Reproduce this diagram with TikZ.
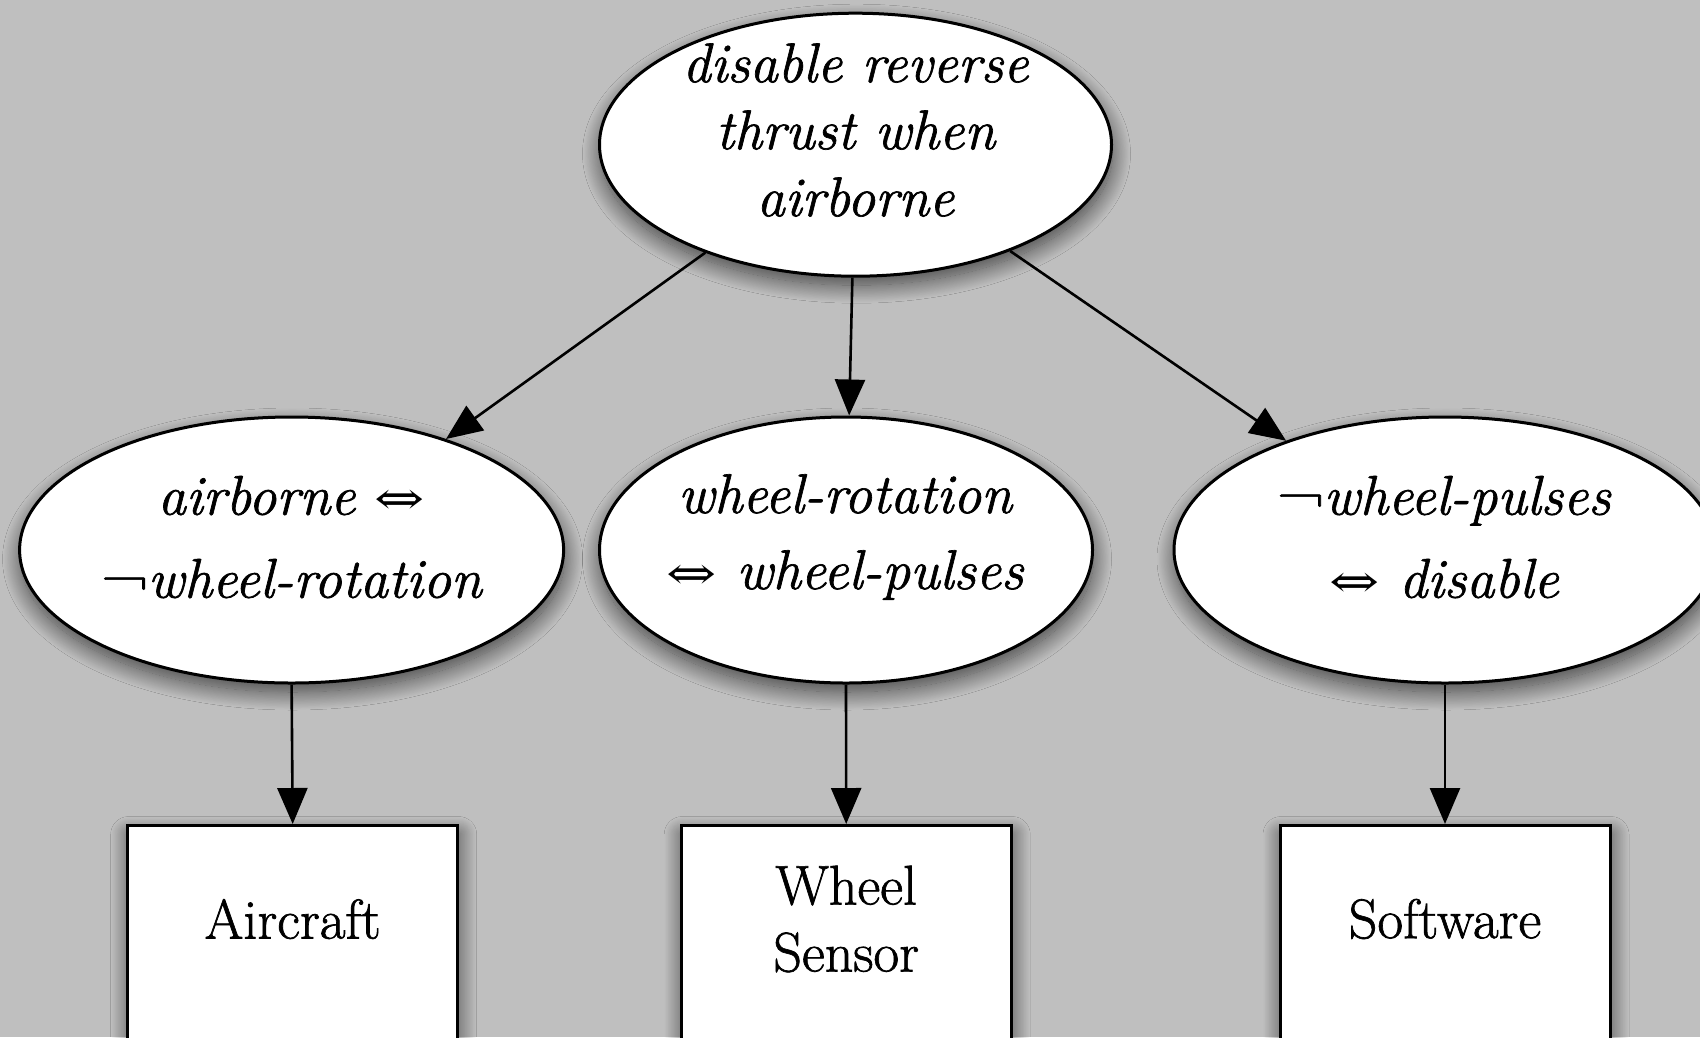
\documentclass[tikz,border=0pt]{standalone}
\usepackage{fontspec}
\usepackage{graphicx}
\setmainfont{Latin Modern Roman}[FakeBold=1.2]
\newfontfamily\symfont{DejaVu Serif}
\usetikzlibrary{shapes.geometric,arrows.meta,shadows.blur}

\definecolor{canvas}{RGB}{191,191,191}
\newcommand{\iffarrow}{{\upshape\scalebox{1.5}[1.15]{\symfont\fontsize{40}{67}\selectfont ⇔}}}
\newcommand{\notsym}{{\upshape\scalebox{1.15}[1]{¬}}}

\tikzset{
  x=1pt, y=1pt,
  softshadow/.style={blur shadow={shadow xshift=1pt, shadow yshift=-9pt,
      shadow blur radius=18pt, shadow blur steps=30, shadow opacity=65}},
  goalshape/.style={ellipse, draw=black, line width=3pt, fill=white,
      inner sep=0pt, softshadow},
  domainbox/.style={rectangle, draw=black, line width=3pt, fill=white,
      minimum width=330pt, minimum height=300pt, inner sep=0pt, softshadow},
  goaltext/.style={align=center, font=\fontsize{56}{67}\selectfont\itshape},
  boxtext/.style={align=center, font=\fontsize{56}{67}\selectfont},
  link/.style={line width=2.6pt, -{Triangle[length=36pt,width=30pt]}},
}

\begin{document}
\begin{tikzpicture}
  \fill[canvas] (0,0) rectangle (1700,-1037);
  \useasboundingbox (0,0) rectangle (1700,-1037);

  % requirement ellipses
  \node[goalshape, minimum width=512pt, minimum height=263pt] (goal) at (855.5,-144.7) {};
  \node[goalshape, minimum width=544pt, minimum height=266pt] (specA) at (291.6,-550) {};
  \node[goalshape, minimum width=493pt, minimum height=266pt] (specW) at (846,-550) {};
  \node[goalshape, minimum width=542pt, minimum height=266pt] (specS) at (1445,-550) {};

  % their statements
  \node[goaltext] (goaltxt) at (855.5,-130) {disable reverse\\thrust when\\airborne};
  \node[goaltext] (specAtxt) at (291.6,-537) {airborne \iffarrow\\[16pt]\notsym wheel-rotation};
  \node[goaltext] (specWtxt) at (845,-537) {wheel-rotation\\[9pt]\iffarrow{} wheel-pulses};
  \node[goaltext] (specStxt) at (1444,-537) {\notsym wheel-pulses\\[16pt]\iffarrow{} disable};

  % problem domains
  \node[domainbox, anchor=north] (aircraft) at (292.7,-824) {};
  \node[domainbox, anchor=north] (sensor) at (846.2,-824) {};
  \node[domainbox, anchor=north] (software) at (1445,-824) {};
  \node[boxtext] (aircrafttxt) at (292.7,-919) {Aircraft};
  \node[boxtext] (sensortxt) at (846.2,-919) {Wheel\\Sensor};
  \node[boxtext] (softwaretxt) at (1445,-919) {Software};

  % refinement links
  \draw[link] (goal) -- (specA);
  \draw[link] (goal) -- (specW);
  \draw[link] (goal) -- (specS);
  \draw[link] (specA.south) -- (aircraft.north);
  \draw[link] (specW.south) -- (sensor.north);
  \draw[link] (specS.south) -- (software.north);
\end{tikzpicture}
\end{document}
